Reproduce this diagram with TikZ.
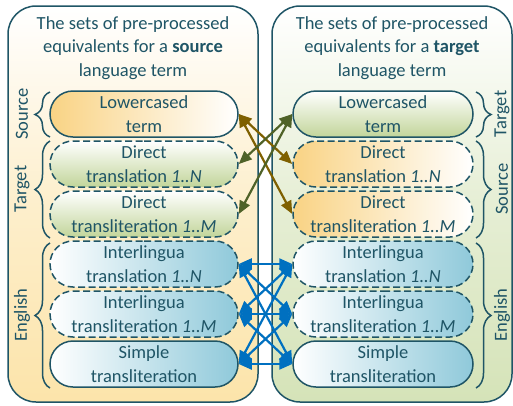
\documentclass[tikz,border=0pt]{standalone}
\usepackage{fontspec}
\setmainfont{Carlito}
\usetikzlibrary{shapes.misc,arrows.meta,decorations.pathreplacing}

\definecolor{inkteal}{HTML}{1F5566}
\definecolor{panelorange}{HTML}{FCE4AA}
\definecolor{panelgreen}{HTML}{D5E3B8}
\definecolor{pillorange}{HTML}{F9D384}
\definecolor{pillgreen}{HTML}{C2D59A}
\definecolor{pillblue}{HTML}{8FC9DA}
\definecolor{arrowbrown}{HTML}{7F6000}
\definecolor{arrowolive}{HTML}{4F6228}
\definecolor{arrowblue}{HTML}{0070C0}

\begin{document}
\begin{tikzpicture}[x=1pt,y=-1pt,
    every node/.style={text=inkteal,font=\fontsize{18.5}{23.5}\selectfont,align=center},
    panel/.style={draw=inkteal,line width=1.5pt,rounded corners=28pt},
    pill/.style={rounded rectangle,draw=inkteal,line width=1.5pt,minimum height=46pt,inner sep=0pt},
    srcpill/.style={pill,minimum width=188pt},
    tgtpill/.style={pill,minimum width=180pt},
    orangefill/.style={left color=pillorange,right color=white},
    greenfill/.style={top color=white,bottom color=pillgreen},
    bluefill/.style={left color=white,right color=pillblue},
    dashpill/.style={dash pattern=on 7pt off 3.5pt},
    grp/.style={decorate,decoration={brace,amplitude=15pt},draw=inkteal,line width=1.5pt},
    link/.style={line width=2.2pt,{Triangle[length=13pt,width=11pt]}-{Triangle[length=13pt,width=11pt]}}]
    \useasboundingbox (0,0) rectangle (513,405);

    % the two panels
    \draw[panel,top color=white,bottom color=panelorange,middle color=panelorange!60] (8,6) rectangle (258,402);
    \draw[panel,top color=white,bottom color=panelgreen,middle color=panelgreen!60] (272,6) rectangle (512,402);

    \node (srctitle) at (133,48) {The sets of pre-processed\\equivalents for a \textbf{source}\\language term};
    \node (tgttitle) at (392,48) {The sets of pre-processed\\equivalents for a \textbf{target}\\language term};

    % source side
    \node (srclow) [srcpill,orangefill] at (144,114) {Lowercased\\term};
    \node (srcdir) [srcpill,greenfill,dashpill] at (144,164) {Direct\\translation \textit{1..N}};
    \node (srcdirlit) [srcpill,greenfill,dashpill] at (144,214) {Direct\\transliteration \textit{1..M}};
    \node (srcint) [srcpill,bluefill,dashpill] at (144,264) {Interlingua\\translation \textit{1..N}};
    \node (srcintlit) [srcpill,bluefill,dashpill] at (144,314) {Interlingua\\transliteration \textit{1..M}};
    \node (srcsimp) [srcpill,bluefill] at (144,364) {Simple\\transliteration};

    % target side
    \node (tgtlow) [tgtpill,greenfill] at (383,114) {Lowercased\\term};
    \node (tgtdir) [tgtpill,orangefill,dashpill] at (383,164) {Direct\\translation \textit{1..N}};
    \node (tgtdirlit) [tgtpill,orangefill,dashpill] at (383,214) {Direct\\transliteration \textit{1..M}};
    \node (tgtint) [tgtpill,bluefill,dashpill] at (383,264) {Interlingua\\translation \textit{1..N}};
    \node (tgtintlit) [tgtpill,bluefill,dashpill] at (383,314) {Interlingua\\transliteration \textit{1..M}};
    \node (tgtsimp) [tgtpill,bluefill] at (383,364) {Simple\\transliteration};

    % braces and their labels
    \draw[grp] (50,137) -- (50,92);
    \draw[grp] (50,238) -- (50,141);
    \draw[grp] (50,388) -- (50,243);
    \node (srcsrc) [rotate=90] at (22,114) {Source};
    \node (srctgt) [rotate=90] at (22,189) {Target};
    \node (srceng) [rotate=90] at (22,315) {English};

    \draw[grp] (476,92) -- (476,137);
    \draw[grp] (476,141) -- (476,238);
    \draw[grp] (476,243) -- (476,388);
    \node (tgttgt) [rotate=90] at (502,114) {Target};
    \node (tgtsrc) [rotate=90] at (502,189) {Source};
    \node (tgteng) [rotate=90] at (502,315) {English};

    % links
    \draw[link,arrowbrown] (srclow.east) -- (tgtdir.west);
    \draw[link,arrowbrown] (srclow.east) -- (tgtdirlit.west);
    \draw[link,arrowolive] (tgtlow.west) -- (srcdir.east);
    \draw[link,arrowolive] (tgtlow.west) -- (srcdirlit.east);
    \foreach \a in {srcint,srcintlit,srcsimp}
        \foreach \b in {tgtint,tgtintlit,tgtsimp}
            \draw[link,arrowblue] (\a.east) -- (\b.west);
\end{tikzpicture}
\end{document}
